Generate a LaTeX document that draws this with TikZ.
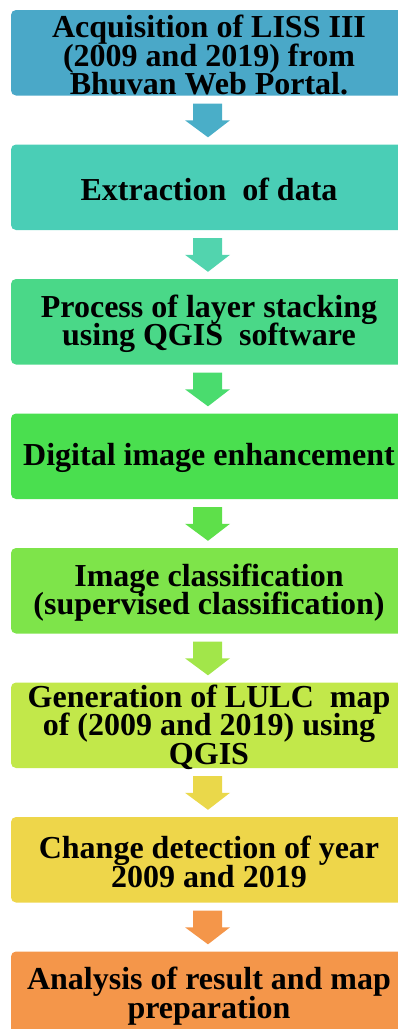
\documentclass[tikz,border=0pt]{standalone}
\usepackage{fontspec}
\setmainfont{Liberation Serif}
\usetikzlibrary{calc}
\definecolor{c1}{HTML}{4AA8C8}
\definecolor{c2}{HTML}{4ACEB6}
\definecolor{c3}{HTML}{4AD888}
\definecolor{c4}{HTML}{4ADF4F}
\definecolor{c5}{HTML}{7EE44A}
\definecolor{c6}{HTML}{C2E84A}
\definecolor{c7}{HTML}{EED64A}
\definecolor{c8}{HTML}{F4964A}
\definecolor{a1}{HTML}{4AAEC8}
\definecolor{a2}{HTML}{52D4AE}
\definecolor{a3}{HTML}{4ADC6E}
\definecolor{a4}{HTML}{5EE04A}
\definecolor{a5}{HTML}{A2E64A}
\definecolor{a6}{HTML}{EAD84A}
\definecolor{a7}{HTML}{F4964A}
\AtBeginDocument{\setlength{\lineskiplimit}{-40pt}}
\tikzset{
  stepbox/.style={rectangle, rounded corners=5pt, inner sep=0pt,
    minimum width=396pt, minimum height=85.5pt},
  steptext/.style={inner sep=0pt, align=center, text=black,
    font=\fontsize{32}{28.5}\selectfont\bfseries}
}
\begin{document}
\begin{tikzpicture}[x=1pt,y=-1pt]
\useasboundingbox (0,0) rectangle (398,1029);
\clip (0,0) rectangle (398,1029);
\node[stepbox, fill=c1] (b1) at (209,52.75) {};
\node[stepbox, fill=c2] (b2) at (209,187.25) {};
\node[stepbox, fill=c3] (b3) at (209,321.75) {};
\node[stepbox, fill=c4] (b4) at (209,456.25) {};
\node[stepbox, fill=c5] (b5) at (209,590.75) {};
\node[stepbox, fill=c6] (b6) at (209,725.25) {};
\node[stepbox, fill=c7] (b7) at (209,859.75) {};
\node[stepbox, fill=c8] (b8) at (209,994.25) {};
\node[steptext] (t1) at ($(b1.center)+(0,2.5)$) {Acquisition of LISS III\\(2009 and 2019) from\\Bhuvan Web Portal.};
\node[steptext] (t2) at ($(b2.center)+(0,2)$) {Extraction \ of data};
\node[steptext] (t3) at ($(b3.center)+(0,2)$) {Process of layer stacking\\using QGIS \ software};
\node[steptext] (t4) at ($(b4.center)+(0,2)$) {Digital image enhancement};
\node[steptext] (t5) at ($(b5.center)+(0,2)$) {Image classification\\(supervised classification)};
\node[steptext] (t6) at ($(b6.center)+(0,2)$) {Generation of LULC \ map\\of (2009 and 2019) using\\QGIS};
\node[steptext] (t7) at ($(b7.center)+(0,2)$) {Change detection of year\\2009 and 2019};
\node[steptext] (t8) at ($(b8.center)+(0,2)$) {Analysis of result and map\\preparation};
\foreach \p/\q/\c in {b1/b2/a1,b2/b3/a2,b3/b4/a3,b4/b5/a4,b5/b6/a5,b6/b7/a6,b7/b8/a7}{
  \fill[\c] ($(\p.south)+(-16,8)$) -- ($(\p.south)+(13,8)$)
    -- ($(\q.north)+(13,-24)$) -- ($(\q.north)+(21,-24)$)
    -- ($(\q.north)+(-1,-7)$)
    -- ($(\q.north)+(-24,-24)$) -- ($(\q.north)+(-16,-24)$) -- cycle;
}
\end{tikzpicture}
\end{document}
